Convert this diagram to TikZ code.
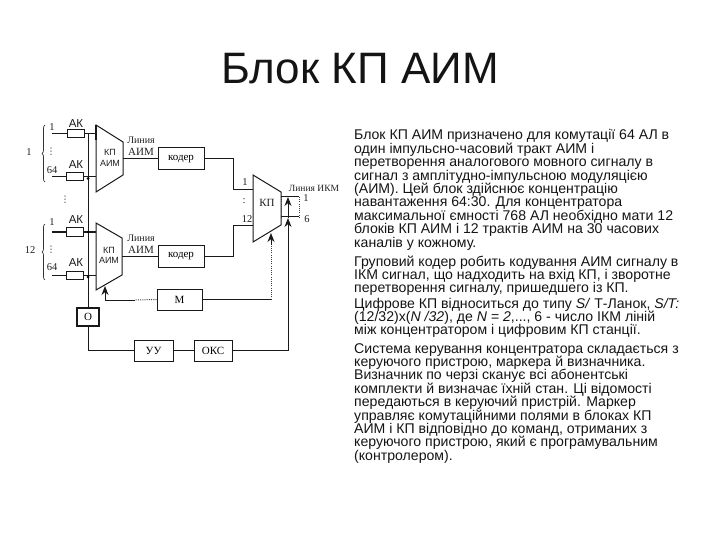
\documentclass[tikz,border=0pt]{standalone}
\usepackage{fontspec}
\setmainfont{Liberation Sans}
\newfontfamily\srf{Liberation Serif}
\newfontfamily\djv{DejaVu Sans}
\usetikzlibrary{arrows.meta,decorations.pathreplacing,calc}
\tikzset{
 x=1pt,y=-1pt,
 wire/.style={draw=black!90,line width=1pt},
 dotwire/.style={draw=black!75,line width=1pt,dash pattern=on 1pt off 1.2pt},
 arr/.style={wire,-{Stealth[length=9pt,width=7pt]}},
 bx/.style={draw=black!90,line width=1pt,fill=white,inner sep=0pt,font=\srf\fontsize{11}{11}\selectfont},
 sm/.style={inner sep=0pt,font=\srf\fontsize{10.5}{10.5}\selectfont,text=black!88},
 vd/.style={inner sep=0pt,font=\djv\fontsize{9}{9}\selectfont,text=black!85},
 lab/.style={inner sep=0pt,font=\fontsize{11.5}{11.5}\selectfont,text=black!90},
 dotn/.style={circle,fill=black,inner sep=0pt,minimum size=3pt},
 tl/.style={anchor=base west,inner sep=0pt,font=\fontsize{14.1}{14.1}\selectfont,text=black!92},
 brc/.style={draw=black!80,line width=0.7pt,decorate,decoration={brace,amplitude=3pt}},
}
\begin{document}
\begin{tikzpicture}
\useasboundingbox (0,0) rectangle (720,540);
\node[inner sep=0pt,font=\fontsize{44}{44}\selectfont,text=black!92] (title) at (360,69) {Блок КП АИМ};

% subscriber kits
\node[bx,minimum width=17pt,minimum height=8pt] (ak1) at (75.5,134) {};
\node[bx,minimum width=17pt,minimum height=8pt] (ak2) at (74.5,177) {};
\node[bx,minimum width=17pt,minimum height=8pt] (ak3) at (74.5,232) {};
\node[bx,minimum width=17pt,minimum height=8pt] (ak4) at (74.5,275.5) {};
\node[lab] (akl1) at (76,124) {АК};
\node[lab] (akl2) at (76,165) {АК};
\node[lab] (akl3) at (76,220) {АК};
\node[lab] (akl4) at (76,263) {АК};
\coordinate (in1) at (52,134);
\coordinate (in2) at (52,177);
\coordinate (in3) at (52,232);
\coordinate (in4) at (52,275.5);
\draw[wire] (in1) -- (ak1);
\draw[wire] (in2) -- (ak2);
\draw[wire] (in3) -- (ak3);
\draw[wire,line width=1.4pt] (in4) -- (ak4);
\node[sm] (n1a) at (52,127) {1};
\node[sm] (n1b) at (52,170) {64};
\node[vd] (n1c) at (51,152) {⋮};
\node[sm] (n2a) at (52,222) {1};
\node[sm] (n2b) at (52,267) {64};
\node[vd] (n2c) at (51,250) {⋮};
\node[vd] (nmid) at (65,200) {⋮};
\coordinate (b1a) at (45,125);\coordinate (b1b) at (45,182);
\coordinate (b2a) at (45,224);\coordinate (b2b) at (45,280);
\draw[brc] (b1b) -- (b1a);
\draw[brc] (b2b) -- (b2a);
\node[sm] (g1) at (29,152) {1};
\node[sm] (g2) at (30,250) {12};

% concentrator switches
\coordinate (t1a) at (96,125);\coordinate (t1b) at (123,142);\coordinate (t1c) at (123,175);\coordinate (t1d) at (96,192);
\draw[wire,fill=white] (t1a) -- (t1b) -- (t1c) -- (t1d) -- cycle;
\draw[wire,line width=1.5pt] (t1a) -- ($(t1a)+(0,15)$);
\coordinate (t2a) at (96,223);\coordinate (t2b) at (122,238);\coordinate (t2c) at (122,275);\coordinate (t2d) at (96,290);
\draw[wire,fill=white] (t2a) -- (t2b) -- (t2c) -- (t2d) -- cycle;
\node[sm,align=center,font=\fontsize{9}{10.5}\selectfont] (kp1) at (110,158) {КП\\АИМ};
\node[sm,align=center,font=\fontsize{9}{10.5}\selectfont] (kp2) at (109,255.5) {КП\\АИМ};

% bus to the scanner
\node[bx,minimum width=22pt,minimum height=18pt,line width=1.3pt] (o) at (88,317) {О};
\coordinate (bt) at (88,134);
\draw[wire] (bt) -- (o.north);
\draw[wire] (ak1) -- (ak1.east -| t1a);
\draw[wire] (ak2) -- (ak2.east -| t1a);
\draw[wire] (ak3) -- (ak3.east -| t2a);
\draw[wire] (ak4) -- (ak4.east -| t2a);
\node[dotn] (d1) at (88,178.5) {};
\node[dotn] (d2) at (88,232) {};
\node[dotn] (d3) at (88,277) {};

% coders
\node[bx,minimum width=46pt,minimum height=22pt] (c1) at (181,159) {кодер};
\node[bx,minimum width=46pt,minimum height=22pt] (c2) at (181,256) {кодер};
\coordinate (o1) at (123,159);\coordinate (o2) at (122,256);
\draw[wire] (o1) -- (c1);
\draw[wire] (o2) -- (c2);
\node[sm,font=\srf\fontsize{10}{10}\selectfont] (la1) at (141,140) {Линия};
\node[sm,font=\srf\fontsize{11}{11}\selectfont] (la2) at (141,152) {АИМ};
\node[sm,font=\srf\fontsize{10}{10}\selectfont] (lb1) at (141,238) {Линия};
\node[sm,font=\srf\fontsize{11}{11}\selectfont] (lb2) at (141,250) {АИМ};

% digital switch
\coordinate (k1) at (253,175);\coordinate (k2) at (281,192);\coordinate (k3) at (281,225);\coordinate (k4) at (253,242);
\draw[wire,fill=white] (k1) -- (k2) -- (k3) -- (k4) -- cycle;
\node[sm,font=\srf\fontsize{11}{11}\selectfont] (kp) at (267,203) {КП};
\coordinate (ki1) at (253,190);\coordinate (ki2) at (253,226);
\coordinate (m1) at (233,190);\coordinate (m2) at (233,226);
\draw[wire] (c1.east) -| (m1) -- (ki1);
\draw[wire] (c2.east) -| (m2) -- (ki2);
\node[sm] (i1) at (245,182) {1};
\node[sm] (i2) at (244,201) {:};
\node[sm] (i3) at (247,219) {12};
\node[sm,font=\srf\fontsize{9.5}{9.5}\selectfont] (lik) at (314,188) {Линия ИКМ};
\coordinate (l1a) at (281,197);\coordinate (l1b) at (299,197);
\coordinate (l2a) at (281,217);\coordinate (l2b) at (299,217);
\draw[wire] (l1a) -- (l1b);
\draw[wire] (l2a) -- (l2b);
\draw[dotwire] (l1b) -- (l2b);
\draw[dotwire] (l1a) -- (l2a);
\node[sm] (o1n) at (306,198) {1};
\node[sm] (o6n) at (307,219) {6};

% marker and control
\node[bx,minimum width=45pt,minimum height=21pt] (mk) at (179.5,299.5) {М};
\node[bx,minimum width=39pt,minimum height=21pt] (uu) at (153.5,350.5) {УУ};
\node[bx,minimum width=38pt,minimum height=21pt] (oks) at (213,350.5) {ОКС};
\coordinate (mj) at (105,300);\coordinate (mt) at (105,286);\coordinate (ms) at (135,300);
\draw[dotwire] (mk.west) -- (ms);
\draw[arr] (ms) -- (mj) -- (mt);
\coordinate (mr) at (271,299.5);\coordinate (mu) at (271,233);
\draw[wire] (mk.east) -- (mr);
\draw[dotwire] (mr) -- (271,245);
\draw[arr] (271,245) -- (mu);
\draw[wire] (o.south) |- (uu.west);
\draw[wire] (uu) -- (oks);
\coordinate (cr) at (288,350.5);\coordinate (ct) at (288,218);\coordinate (cb) at (288,197);
\draw[arr] (oks.east) -- (cr) -- (ct);
\draw[arr] (288,218) -- (cb);

% text
\node[tl] (t01) at (354,140) {Блок КП АИМ призначено для комутації 64 АЛ в};
\node[tl] (t02) at (354,153.4) {один імпульсно-часовий тракт АИМ і};
\node[tl] (t03) at (354,166.8) {перетворення аналогового мовного сигналу в};
\node[tl] (t04) at (354,180.2) {сигнал з амплітудно-імпульсною модуляцією};
\node[tl] (t05) at (354,193.6) {(АИМ). Цей блок здійснює концентрацію};
\node[tl] (t06) at (354,207) {навантаження 64:30. Для концентратора};
\node[tl] (t07) at (354,220.4) {максимальної ємності 768 АЛ необхідно мати 12};
\node[tl] (t08) at (354,233.8) {блоків КП АИМ і 12 трактів АИМ на 30 часових};
\node[tl] (t09) at (354,247.2) {каналів у кожному.};
\node[tl] (t10) at (354,266) {Груповий кодер робить кодування АИМ сигналу в};
\node[tl] (t11) at (354,279.4) {ІКМ сигнал, що надходить на вхід КП, і зворотне};
\node[tl] (t12) at (354,292.8) {перетворення сигналу, пришедшего із КП.};
\node[tl] (t13) at (354,308) {Цифрове КП відноситься до типу \textit{S/} Т-Ланок, \textit{S/T:}};
\node[tl] (t14) at (354,321.4) {(12/32)x(\textit{N /32}), де \textit{N = 2},..., 6 - число ІКМ ліній};
\node[tl] (t15) at (354,334.8) {між концентратором і цифровим КП станції.};
\node[tl] (t16) at (354,353) {Система керування концентратора складається з};
\node[tl] (t17) at (354,366.4) {керуючого пристрою, маркера й визначника.};
\node[tl] (t18) at (354,379.8) {Визначник по черзі сканує всі абонентські};
\node[tl] (t19) at (354,393.2) {комплекти й визначає їхній стан. Ці відомості};
\node[tl] (t20) at (354,406.6) {передаються в керуючий пристрій. Маркер};
\node[tl] (t21) at (354,420) {управляє комутаційними полями в блоках КП};
\node[tl] (t22) at (354,433.4) {АИМ і КП відповідно до команд, отриманих з};
\node[tl] (t23) at (354,446.8) {керуючого пристрою, який є програмувальним};
\node[tl] (t24) at (354,460.2) {(контролером).};
\end{tikzpicture}
\end{document}
